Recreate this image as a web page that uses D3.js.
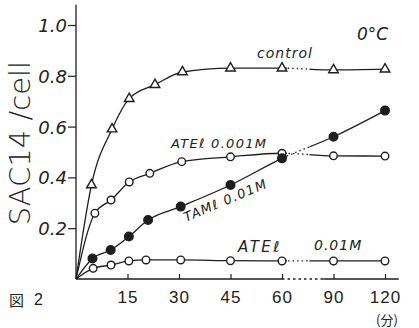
<!DOCTYPE html>
<html><head><meta charset="utf-8">
<script src="https://cdn.jsdelivr.net/npm/d3@7"></script>
<style>
html,body{margin:0;padding:0;background:#fff;}
svg{display:block;}
text{fill:#222;}
</style></head>
<body><svg id="c" width="419" height="328"></svg>
<script>
// ---- data (time in minutes, value SAC14/cell) ----
const controlTime   = [4.5, 10.5, 15.5, 23, 31, 45, 60, 90, 120];
const controlValue  = [0.37, 0.59, 0.71, 0.765, 0.815, 0.83, 0.83, 0.823, 0.826];
const ate001Time    = [5.5, 10.2, 15.5, 21.5, 30.8, 45, 60, 90, 120];
const ate001Value   = [0.259, 0.311, 0.382, 0.416, 0.462, 0.481, 0.495, 0.485, 0.484];
const tameTime      = [4.8, 10.1, 15.4, 21, 30.5, 45, 60, 90, 120];
const tameValue     = [0.081, 0.114, 0.167, 0.232, 0.285, 0.37, 0.475, 0.56, 0.663];
const ate01Time     = [5, 10.2, 15.4, 20.4, 30.5, 45, 60, 90, 120];
const ate01Value    = [0.042, 0.055, 0.071, 0.075, 0.075, 0.072, 0.071, 0.071, 0.071];
const xTicks = [15, 30, 45, 60, 90, 120];
const yTicks = [0.2, 0.4, 0.6, 0.8, 1.0];

const svg = d3.select("#c");
const x = d3.scaleLinear().domain([0, 60, 120]).range([76, 282, 385]);
const y = d3.scaleLinear().domain([0, 1]).range([279, 25]);
const ink = "#1e1e1e";

// clip paths for the broken (dotted) interval after 60 min
const defs = svg.append("defs");
const bandA = x(60) + 5, bandB = x(76);
const cs = defs.append("clipPath").attr("id", "solid");
cs.append("rect").attr("x", 0).attr("y", 0).attr("width", bandA).attr("height", 328);
cs.append("rect").attr("x", bandB).attr("y", 0).attr("width", 419 - bandB).attr("height", 328);
defs.append("clipPath").attr("id", "dot").append("rect")
  .attr("x", bandA).attr("y", 0).attr("width", bandB - bandA).attr("height", 328);

// axes
const yAxis = d3.axisLeft(y).tickValues(yTicks).tickSize(8).tickPadding(3)
  .tickFormat(d3.format(".1f"));
const gy = svg.append("g").attr("transform", `translate(${x(0)},0)`).call(yAxis);
gy.select(".domain").remove();
gy.selectAll("line").attr("stroke", ink).attr("stroke-width", 1.2);
gy.selectAll("text").attr("font-family", "DejaVu Sans").attr("font-style", "italic")
  .attr("font-size", 18).attr("fill", "#222").attr("x", -9).attr("dy", "0.36em");
svg.append("line").attr("x1", x(0)).attr("x2", x(0)).attr("y1", y(0)).attr("y2", y(1.08))
  .attr("stroke", ink).attr("stroke-width", 1.3);

const xAxis = d3.axisBottom(x).tickValues(xTicks).tickSizeInner(-5).tickSizeOuter(0);
const gx = svg.append("g").attr("transform", `translate(0,${y(0)})`).call(xAxis);
gx.select(".domain").remove();
gx.selectAll("line").attr("stroke", ink).attr("stroke-width", 1.2);
gx.selectAll("text").attr("font-family", "Liberation Sans").attr("font-size", 17)
  .attr("fill", "#222").attr("y", 24).attr("dy", null).attr("letter-spacing", 1);
svg.append("line").attr("x1", x(0)).attr("x2", x(60)).attr("y1", y(0)).attr("y2", y(0))
  .attr("stroke", ink).attr("stroke-width", 1.3);
svg.append("line").attr("x1", x(60)).attr("x2", x(84)).attr("y1", y(0)).attr("y2", y(0))
  .attr("stroke", ink).attr("stroke-width", 1.3).attr("stroke-dasharray", "2.5,3");
svg.append("line").attr("x1", x(84)).attr("x2", x(128)).attr("y1", y(0)).attr("y2", y(0))
  .attr("stroke", ink).attr("stroke-width", 1.3);

// series
const line = d3.line().x(d => x(d[0])).y(d => y(d[1])).curve(d3.curveMonotoneX);
function series(times, vals, marker) {
  const pts = [[0, 0]].concat(times.map((t, i) => [t, vals[i]]));
  svg.append("path").attr("d", line(pts)).attr("fill", "none").attr("stroke", ink)
    .attr("stroke-width", 1.3).attr("clip-path", "url(#solid)");
  svg.append("path").attr("d", line(pts)).attr("fill", "none").attr("stroke", ink)
    .attr("stroke-width", 1.3).attr("stroke-dasharray", "1.5,3").attr("clip-path", "url(#dot)");
  const g = svg.append("g");
  const data = times.map((t, i) => [t, vals[i]]);
  if (marker === "tri") {
    g.selectAll("path").data(data).join("path")
      .attr("d", d3.symbol(d3.symbolTriangle, 40)())
      .attr("transform", d => `translate(${x(d[0])},${y(d[1])})`)
      .attr("fill", "#fff").attr("stroke", ink).attr("stroke-width", 1.4);
  } else {
    g.selectAll("circle").data(data).join("circle")
      .attr("cx", d => x(d[0])).attr("cy", d => y(d[1]))
      .attr("r", marker === "fill" ? 4.3 : 3.8)
      .attr("fill", marker === "fill" ? ink : "#fff").attr("stroke", ink).attr("stroke-width", 1.4);
  }
}
series(controlTime, controlValue, "tri");
series(ate001Time, ate001Value, "open");
series(ate01Time, ate01Value, "open");
series(tameTime, tameValue, "fill");

// labels
const hand = "DejaVu Sans";
function label(txt, px, py, size, opts = {}) {
  const t = svg.append("text").attr("x", px).attr("y", py).attr("font-family", opts.family || hand)
    .attr("font-size", size).attr("fill", "#222").text(txt);
  if (opts.italic) t.attr("font-style", "italic");
  if (opts.anchor) t.attr("text-anchor", opts.anchor);
  if (opts.ls) t.attr("letter-spacing", opts.ls);
  if (opts.rot) t.attr("transform", `rotate(${opts.rot},${px},${py})`);
  return t;
}
label("control", 257, 58, 14, {italic: true, ls: 1});
label("ATEℓ 0.001M", 171, 148, 13, {italic: true, ls: 1.3});
label("TAMℓ 0.01M", 186, 222, 13, {italic: true, ls: 1.3, rot: -23});
label("ATEℓ", 238, 252, 15, {italic: true, ls: 2.5});
label("0.01M", 314, 250, 14, {italic: true, ls: 1});
label("0°C", 357, 40, 17, {italic: true});
label("(分)", 387, 325, 13, {anchor: "middle", family: "Noto Sans CJK JP"});
label("図", 9, 306, 15, {family: "Noto Sans CJK JP"});
label("2", 34, 305, 16, {family: "Liberation Sans"});
svg.append("text").attr("transform", "translate(30,143) rotate(-90)")
  .attr("text-anchor", "middle").attr("font-family", "DejaVu Sans").attr("font-weight", 200)
  .attr("font-size", 29).attr("fill", "#333").text("SAC14 /cell");
</script></body></html>
